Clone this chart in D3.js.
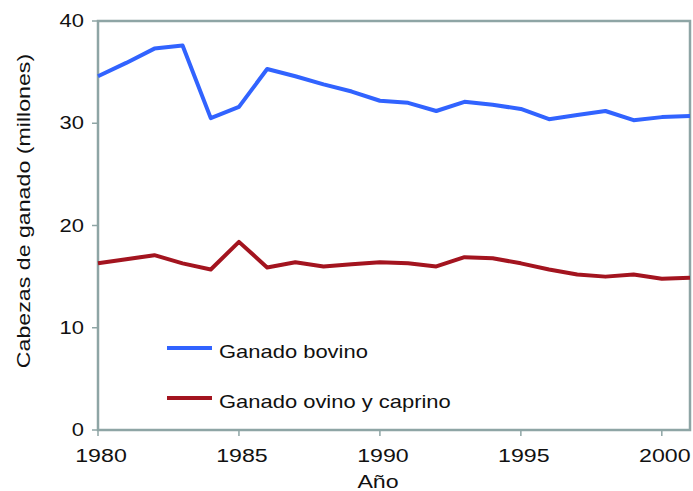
<!DOCTYPE html>
<html>
<head>
<meta charset="utf-8">
<script src="https://cdn.jsdelivr.net/npm/d3@7"></script>
<style>
  html, body { margin: 0; padding: 0; background: #ffffff; }
  svg { display: block; }
  text { font-family: "Liberation Sans", Arial, sans-serif; fill: #111111; }
</style>
</head>
<body>
<svg id="chart" width="693" height="491"></svg>
<script>
const years = d3.range(1980, 2002);
const bovino = [34.6, 35.9, 37.3, 37.6, 30.5, 31.6, 35.3, 34.6, 33.8, 33.1, 32.2, 32.0, 31.2, 32.1, 31.8, 31.4, 30.4, 30.8, 31.2, 30.3, 30.6, 30.7];
const ovinoCaprino = [16.3, 16.7, 17.1, 16.3, 15.7, 18.4, 15.9, 16.4, 16.0, 16.2, 16.4, 16.3, 16.0, 16.9, 16.8, 16.3, 15.7, 15.2, 15.0, 15.2, 14.8, 14.9];
const seriesNames = ["Ganado bovino", "Ganado ovino y caprino"];
const xTicks = [1980, 1985, 1990, 1995, 2000];
const yTicks = [0, 10, 20, 30, 40];
const xTitle = "Año";
const yTitle = "Cabezas de ganado (millones)";

const colors = ["#3163ff", "#a3141f"];
const axisColor = "#8ea5a5";
const stretch = 1.22;

const svg = d3.select("#chart");
const m = { left: 98, top: 21, right: 690, bottom: 430 };

const x = d3.scaleLinear().domain([1980, 2001]).range([m.left, m.right]);
const y = d3.scaleLinear().domain([0, 40]).range([m.bottom, m.top]);

function stretchedText(g, str, tx, ty, anchor, size, rot) {
  return g.append("text")
    .attr("transform", `translate(${tx},${ty}) rotate(${rot || 0}) scale(${stretch},1)`)
    .attr("text-anchor", anchor)
    .style("font-size", size + "px")
    .text(str);
}

// frame
svg.append("rect")
  .attr("x", m.left).attr("y", m.top)
  .attr("width", m.right - m.left).attr("height", m.bottom - m.top)
  .attr("fill", "none").attr("stroke", axisColor).attr("stroke-width", 2.5);

// y ticks
const gy = svg.append("g");
yTicks.forEach(v => {
  gy.append("line").attr("x1", m.left - 6).attr("x2", m.left)
    .attr("y1", y(v)).attr("y2", y(v)).attr("stroke", axisColor).attr("stroke-width", 1.5);
  stretchedText(gy, String(v), m.left - 14, y(v) + 6, "end", 18);
});

// x ticks
const gx = svg.append("g");
xTicks.forEach(v => {
  gx.append("line").attr("x1", x(v)).attr("x2", x(v))
    .attr("y1", m.bottom).attr("y2", m.bottom + 6).attr("stroke", axisColor).attr("stroke-width", 1.5);
  stretchedText(gx, String(v), x(v) + 3, 462, "middle", 19);
});

// titles
stretchedText(svg, xTitle, 378, 488, "middle", 19);
stretchedText(svg, yTitle, 30, 211, "middle", 19, -90);

// lines
const line = d3.line().x((d, i) => x(years[i])).y(d => y(d));
[bovino, ovinoCaprino].forEach((s, i) => {
  svg.append("path").datum(s)
    .attr("d", line)
    .attr("fill", "none")
    .attr("stroke", colors[i])
    .attr("stroke-width", 4)
    .attr("stroke-linejoin", "round");
});

// legend
const lg = svg.append("g");
seriesNames.forEach((name, i) => {
  const ly = 348 + i * 50;
  lg.append("line").attr("x1", 167).attr("x2", 212).attr("y1", ly).attr("y2", ly)
    .attr("stroke", colors[i]).attr("stroke-width", 4);
  stretchedText(lg, name, 219, ly + 10, "start", 18);
});
</script>
</body>
</html>
